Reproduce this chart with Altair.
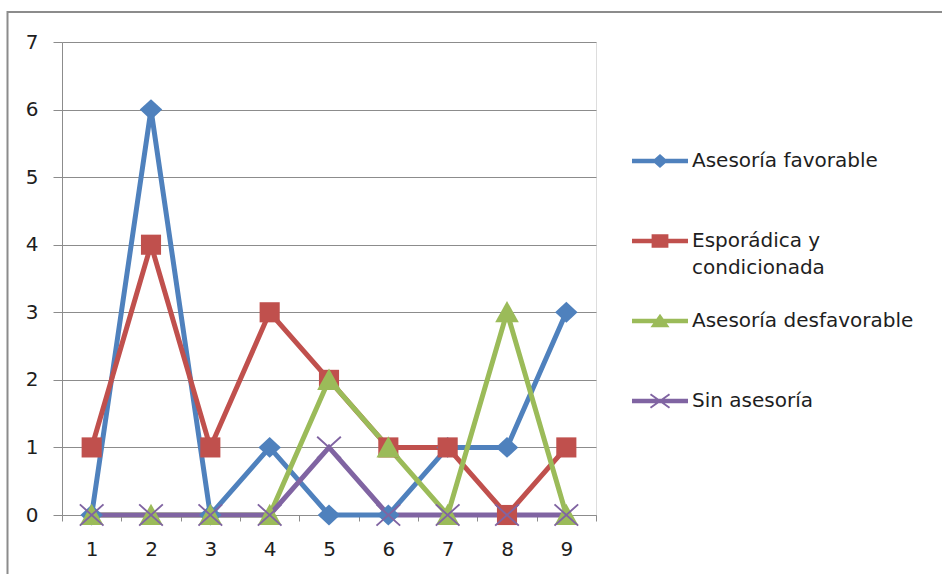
import altair as alt
import pandas as pd

# Datos de las cuatro series
categorias = [1, 2, 3, 4, 5, 6, 7, 8, 9]
series = [
    "Asesoría favorable",
    "Esporádica y condicionada",
    "Asesoría desfavorable",
    "Sin asesoría",
]
favorable = [0, 6, 0, 1, 0, 0, 1, 1, 3]
esporadica = [1, 4, 1, 3, 2, 1, 1, 0, 1]
desfavorable = [0, 0, 0, 0, 2, 1, 0, 3, 0]
sin_asesoria = [0, 0, 0, 0, 1, 0, 0, 0, 0]
valores_y = [0, 1, 2, 3, 4, 5, 6, 7]

colores = ["#4F81BD", "#C0504D", "#9BBB59", "#8064A2"]
gris = "#8c8c8c"
fuente = "DejaVu Sans"
texto = "#1e1e1e"

filas = []
for nombre, vals in zip(series, [favorable, esporadica, desfavorable, sin_asesoria]):
    for c, v in zip(categorias, vals):
        filas.append({"Serie": nombre, "Cat": c, "Valor": v})
datos = pd.DataFrame(filas)


def barra(x1, y1, x2, y2, t):
    """Polygon path for a thick straight segment (same winding as the other shapes)."""
    dx, dy = x2 - x1, y2 - y1
    n = (dx * dx + dy * dy) ** 0.5
    px, py = -dy / n * t, dx / n * t
    pts = [(x1 - px, y1 - py), (x2 - px, y2 - py), (x2 + px, y2 + py), (x1 + px, y1 + py)]
    return "M" + "L".join(f"{x:.3f},{y:.3f}" for x, y in pts) + "Z"


# Marker shapes used on the plot (unit box = marker size)
marcadores = [
    "M0,-0.88L0.95,0L0,0.88L-0.95,0Z",
    "M-0.85,-0.85H0.85V0.85H-0.85Z",
    "M0,-0.95L1,0.85L-1,0.85Z",
    barra(-1, -0.9, 1, 0.9, 0.08) + barra(-1, 0.9, 1, -0.9, 0.08),
]

# Legend symbols: a short line segment with a small marker on it
linea = "M-1,-0.08H1V0.08H-1Z"
simbolos = [
    linea + "M0,-0.25L0.28,0L0,0.25L-0.28,0Z",
    linea + "M-0.3,-0.24H0.3V0.24H-0.3Z",
    linea + "M0,-0.26L0.34,0.22L-0.34,0.22Z",
    linea + barra(-0.34, -0.24, 0.34, 0.24, 0.035) + barra(-0.34, 0.24, 0.34, -0.24, 0.035),
]

escala_color = alt.Scale(domain=series, range=colores)

x_enc = alt.X(
    "Cat:O",
    scale=alt.Scale(type="band", paddingInner=0, paddingOuter=0),
    axis=alt.Axis(
        title=None, labelAngle=0, tickBand="extent", tickSize=6, tickColor=gris,
        domainColor=gris, labelFont=fuente, labelFontSize=20, labelColor=texto,
        labelPadding=18, grid=False,
    ),
)
y_enc = alt.Y(
    "Valor:Q",
    scale=alt.Scale(domain=[0, 7], nice=False),
    axis=alt.Axis(
        title=None, values=valores_y, tickSize=9, tickColor=gris, domainColor=gris,
        gridColor=gris, gridWidth=1, labelFont=fuente, labelFontSize=20,
        labelColor=texto, labelPadding=15,
    ),
)

lineas = alt.Chart(datos).mark_line(strokeWidth=5).encode(
    x=x_enc,
    y=y_enc,
    color=alt.Color("Serie:N", scale=escala_color, legend=None),
    detail="Serie:N",
)

puntos = alt.Chart(datos).mark_point(filled=True, opacity=1, size=560, strokeWidth=0).encode(
    x=x_enc,
    y=y_enc,
    color=alt.Color("Serie:N", scale=escala_color, legend=None),
    shape=alt.Shape("Serie:N", scale=alt.Scale(domain=series, range=marcadores), legend=None),
)

# Every legend label takes two lines so that the entries are evenly spaced
leyenda = alt.Legend(
    title=None,
    orient="none",
    legendX=570,
    legendY=91,
    padding=0,
    labelFont=fuente,
    labelFontSize=20,
    labelColor=texto,
    labelOffset=4,
    labelLimit=0,
    rowPadding=15,
    symbolSize=3136,
    symbolStrokeWidth=0,
    labelExpr=(
        "datum.label == 'Esporádica y condicionada' ? ['Esporádica y', 'condicionada'] "
        ": [datum.label, '']"
    ),
)

# Layer that only carries the legend (no rows survive the filter)
capa_leyenda = alt.Chart(datos).transform_filter("false").mark_point(
    filled=True, opacity=1, size=3136, strokeWidth=0
).encode(
    x=x_enc,
    y=y_enc,
    color=alt.Color("Serie:N", scale=escala_color, legend=leyenda),
    shape=alt.Shape("Serie:N", scale=alt.Scale(domain=series, range=simbolos), legend=leyenda),
)

# Outer frame: top and left edges
marco = pd.DataFrame({"k": [0]})
borde_sup = alt.Chart(marco).mark_rule(color=gris, strokeWidth=2).encode(
    x=alt.value(-54), x2=alt.value(880), y=alt.value(-30), y2=alt.value(-30)
)
borde_izq = alt.Chart(marco).mark_rule(color=gris, strokeWidth=2).encode(
    x=alt.value(-54.5), x2=alt.value(-54.5), y=alt.value(-31), y2=alt.value(540)
)

chart = (
    alt.layer(borde_sup, borde_izq, lineas, puntos, capa_leyenda)
    .resolve_scale(color="independent", shape="independent")
    .properties(
        width=534,
        height=473,
        autosize=alt.AutoSizeParams(type="none"),
        padding={"left": 62, "top": 42, "right": 346, "bottom": 59},
        background="white",
    )
    .configure_view(stroke=None)
    .configure(style={"guide-label": {"lineHeight": 27}})
)

chart.save("out.html", embed_options={"renderer": "svg", "actions": False})
